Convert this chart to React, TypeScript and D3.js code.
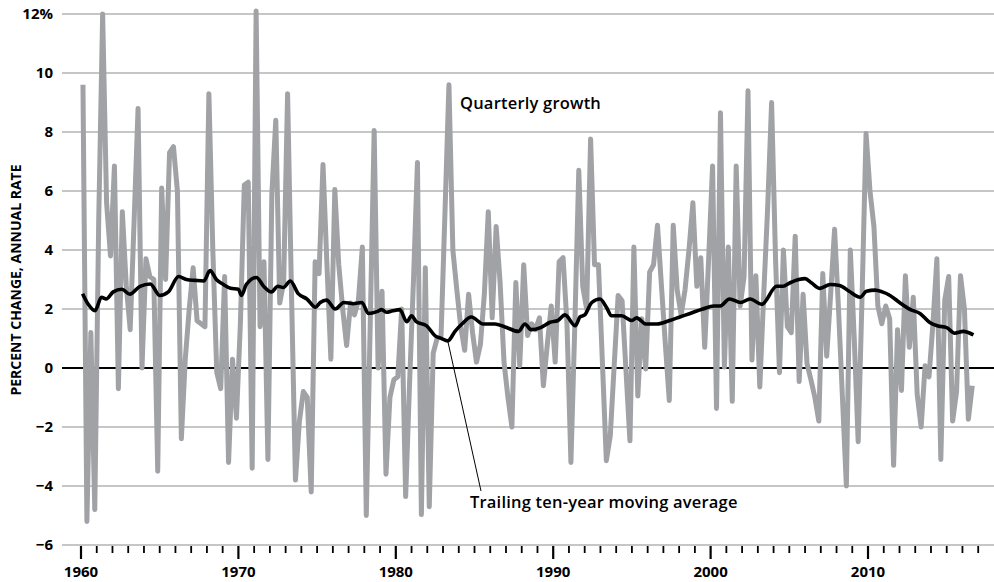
import React, { useEffect, useRef } from "react";
import * as d3 from "d3";

// quarterly growth, percent change at annual rate, 1960Q1 .. 2016Q3 (one row per year)
const quarterlyGrowth: number[] = [
  9.6, -5.2, 1.2, -4.8,
  5.0, 12.0, 5.6, 3.8,
  6.85, -0.7, 5.3, 2.8,
  1.3, 5.0, 8.8, 0.0,
  3.7, 3.1, 3.0, -3.5,
  6.1, 3.0, 7.3, 7.5,
  6.0, -2.4, 0.3, 2.0,
  3.4, 1.6, 1.5, 1.4,
  9.3, 4.0, -0.15, -0.7,
  3.1, -3.2, 0.3, -1.7,
  1.5, 6.2, 6.3, -3.4,
  12.1, 1.4, 3.6, -3.1,
  5.9, 8.4, 2.2, 2.9,
  9.3, 2.5, -3.8, -1.8,
  -0.8, -1.0, -4.2, 3.6,
  3.2, 6.9, 3.5, 0.3,
  6.05, 3.5, 2.0, 0.76,
  2.2, 1.8, 2.3, 4.1,
  -5.0, 1.5, 8.05, 0.0,
  2.6, -3.6, -1.0, -0.4,
  -0.3, 2.0, -4.36, -0.5,
  3.0, 6.97, -4.97, 3.4,
  -4.7, 0.5, 1.0, 1.1,
  5.3, 9.6, 4.0, 2.65,
  1.4, 0.6, 2.5, 1.2,
  0.2, 0.8, 2.5, 5.3,
  1.7, 4.8, 2.9, 0.2,
  -1.0, -2.0, 2.9, 0.08,
  3.5, 1.1, 1.5, 1.3,
  1.7, -0.6, 0.8, 2.1,
  0.2, 3.6, 3.74, 1.5,
  -3.2, 1.5, 6.7, 2.77,
  2.0, 7.76, 3.5, 3.5,
  0.2, -3.14, -2.3, 0.1,
  2.46, 2.28, -0.1, -2.47,
  4.1, -0.95, 1.67, -0.03,
  3.25, 3.5, 4.84, 2.8,
  0.8, -1.1, 4.84, 2.65,
  1.8, 2.65, 4.0, 5.6,
  2.77, 3.74, 0.7, 3.7,
  6.85, -1.37, 8.65, 0.03,
  4.1, -1.13, 6.85, 2.1,
  3.1, 9.4, 0.27, 3.13,
  -0.64, 2.5, 5.45, 9.0,
  3.7, -0.16, 4.0, 1.4,
  1.2, 4.47, -0.46, 2.5,
  0.15, -0.4, -1.0, -1.8,
  3.2, 0.4, 2.5, 4.7,
  2.0, -1.0, -4.0, 4.0,
  1.0, -2.5, 2.5, 7.95,
  6.0, 4.8, 2.1, 1.5,
  2.1, 1.67, -3.3, 1.3,
  -0.76, 3.13, 0.7, 2.4,
  -0.9, -2.0, 0.08, -0.3,
  1.5, 3.7, -3.1, 2.3,
  3.1, -1.8, -0.8, 3.13,
  2.0, -1.74, -0.6,
];

const maDates: number[] = [
  1960.1, 1960.46, 1960.89, 1961.3, 1961.6, 1962.05, 1962.6, 1963.1, 1963.75, 1964.4,
  1965.0, 1965.55, 1966.2, 1966.7, 1967.25, 1967.8, 1968.2, 1968.6, 1969.05, 1969.5,
  1970.0, 1970.2, 1970.5, 1971.15, 1971.6, 1972.1, 1972.5, 1972.85, 1973.3, 1973.8,
  1974.35, 1974.9, 1975.2, 1975.6, 1976.15, 1976.7, 1977.3, 1977.85, 1978.25, 1978.8,
  1979.1, 1979.4, 1979.8, 1980.25, 1980.7, 1981.0, 1981.3, 1981.96, 1982.5, 1982.9,
  1983.3, 1983.76, 1984.2, 1984.8, 1985.55, 1986.3, 1986.9, 1987.8, 1988.2, 1988.6,
  1989.2, 1989.8, 1990.3, 1990.75, 1991.4, 1991.7, 1992.0, 1992.45, 1992.97, 1993.4,
  1993.7, 1994.35, 1995.0, 1995.3, 1995.9, 1996.6, 1997.4, 1998.05, 1998.7, 1999.5,
  2000.2, 2000.6, 2001.2, 2001.9, 2002.5, 2003.25, 2004.2, 2004.6, 2005.05, 2005.6,
  2006.0, 2006.4, 2006.95, 2007.6, 2008.2, 2008.8, 2009.5, 2009.9, 2010.45, 2010.9,
  2011.4, 2012.0, 2012.7, 2013.3, 2013.9, 2014.4, 2015.0, 2015.5, 2016.05, 2016.7,
];
const maValues: number[] = [
  2.52, 2.16, 1.94, 2.4, 2.34, 2.58, 2.67, 2.5, 2.77, 2.85,
  2.46, 2.58, 3.1, 3.0, 2.97, 2.95, 3.3, 3.0, 2.83, 2.7,
  2.67, 2.46, 2.83, 3.07, 2.77, 2.58, 2.77, 2.73, 2.95, 2.52,
  2.34, 2.06, 2.22, 2.3, 2.0, 2.22, 2.18, 2.22, 1.85, 1.91,
  1.98, 1.89, 1.94, 1.98, 1.57, 1.77, 1.57, 1.43, 1.09, 1.0,
  0.92, 1.24, 1.49, 1.73, 1.49, 1.49, 1.4, 1.24, 1.49, 1.3,
  1.37, 1.55, 1.61, 1.8, 1.43, 1.73, 1.8, 2.22, 2.34, 2.04,
  1.77, 1.77, 1.61, 1.7, 1.49, 1.49, 1.61, 1.73, 1.85, 2.0,
  2.1, 2.1, 2.34, 2.22, 2.34, 2.16, 2.77, 2.77, 2.89, 3.0,
  3.03, 2.89, 2.7, 2.83, 2.8, 2.6, 2.4, 2.6, 2.64, 2.58,
  2.46, 2.22, 1.98, 1.85, 1.55, 1.43, 1.37, 1.18, 1.24, 1.12,
];

const yTicks: number[] = [-6, -4, -2, 0, 2, 4, 6, 8, 10, 12];
const decadeLabels: number[] = [1960, 1970, 1980, 1990, 2000, 2010];

const W = 994;
const H = 582;
const FONT = "'Open Sans', 'DejaVu Sans', sans-serif";

const App = () => {
  const ref = useRef<SVGSVGElement>(null);

  useEffect(() => {
    const svg = d3.select(ref.current);
    svg.selectAll("*").remove();

    const x = d3.scaleLinear().domain([1960, 2017]).range([81, 978.2]);
    const y = d3.scaleLinear().domain([-6, 12]).range([545, 14]);

    // gridlines
    svg
      .append("g")
      .selectAll("line")
      .data(yTicks)
      .enter()
      .append("line")
      .attr("x1", 62)
      .attr("x2", W)
      .attr("y1", (d) => y(d))
      .attr("y2", (d) => y(d))
      .attr("stroke", (d) => (d === 0 ? "#000" : "#b3b3b3"))
      .attr("stroke-width", (d) => (d === 0 ? 1.8 : 1.3));

    // y tick labels
    svg
      .append("g")
      .selectAll("text")
      .data(yTicks)
      .enter()
      .append("text")
      .attr("x", 53)
      .attr("y", (d) => y(d))
      .attr("dy", "0.36em")
      .attr("text-anchor", "end")
      .style("font-family", FONT)
      .style("font-weight", 700)
      .style("font-size", "15px")
      .text((d) => (d === 12 ? "12%" : d < 0 ? "\u2212" + Math.abs(d) : String(d)));

    // x axis ticks
    const years = d3.range(1960, 2018);
    svg
      .append("g")
      .selectAll("line")
      .data(years)
      .enter()
      .append("line")
      .attr("x1", (d) => x(d))
      .attr("x2", (d) => x(d))
      .attr("y1", 546)
      .attr("y2", (d) => (d % 10 === 0 ? 559 : 553))
      .attr("stroke", "#000")
      .attr("stroke-width", (d) => (d % 10 === 0 ? 2.2 : 1.8));

    svg
      .append("g")
      .selectAll("text")
      .data(decadeLabels)
      .enter()
      .append("text")
      .attr("x", (d) => x(d))
      .attr("y", 577)
      .attr("text-anchor", "middle")
      .style("font-family", FONT)
      .style("font-weight", 700)
      .style("font-size", "15px")
      .text((d) => String(d));

    // y axis title
    svg
      .append("text")
      .attr("transform", "rotate(-90)")
      .attr("x", -280)
      .attr("y", 21)
      .attr("text-anchor", "middle")
      .style("font-family", FONT)
      .style("font-weight", 700)
      .style("font-size", "14px")
      .text("PERCENT CHANGE, ANNUAL RATE");

    // quarterly growth line
    const qLine = d3
      .line<number>()
      .x((d, i) => x(1960 + (i + 0.5) / 4))
      .y((d) => y(d));
    svg
      .append("path")
      .datum(quarterlyGrowth)
      .attr("d", qLine)
      .attr("fill", "none")
      .attr("stroke", "#a1a2a6")
      .attr("stroke-width", 5)
      .attr("stroke-linejoin", "round");

    // moving average line
    const maLine = d3
      .line<number>()
      .x((d, i) => x(maDates[i]))
      .y((d) => y(d))
      .curve(d3.curveMonotoneX);
    svg
      .append("path")
      .datum(maValues)
      .attr("d", maLine)
      .attr("fill", "none")
      .attr("stroke", "#000")
      .attr("stroke-width", 3.6)
      .attr("stroke-linejoin", "round");

    // leader line for moving average label
    svg
      .append("line")
      .attr("x1", x(1983.3))
      .attr("y1", y(0.92))
      .attr("x2", 481)
      .attr("y2", 491)
      .attr("stroke", "#000")
      .attr("stroke-width", 1);

    svg
      .append("text")
      .attr("x", 460)
      .attr("y", 109)
      .style("font-family", FONT)
      .style("font-weight", 600)
      .style("font-size", "16.5px")
      .style("letter-spacing", "0.2px")
      .text("Quarterly growth");

    svg
      .append("text")
      .attr("x", 470)
      .attr("y", 508)
      .style("font-family", FONT)
      .style("font-weight", 600)
      .style("font-size", "16.5px")
      .style("letter-spacing", "0.2px")
      .text("Trailing ten-year moving average");
  }, []);

  return (
    <svg
      ref={ref}
      width={W}
      height={H}
      style={{ position: "absolute", left: 0, top: 0, background: "#fff" }}
    />
  );
};

export default App;
